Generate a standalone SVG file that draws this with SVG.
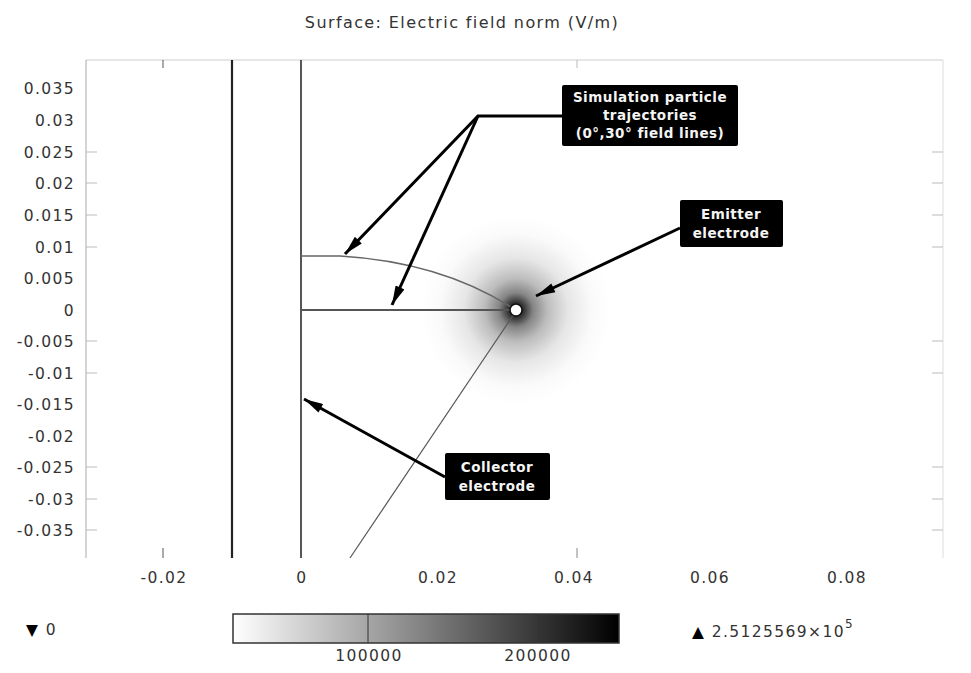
<svg xmlns="http://www.w3.org/2000/svg" width="971" height="673" viewBox="0 0 971 673">
<style>
.t{font-family:"DejaVu Sans",sans-serif;fill:#333}
.ax{font-size:15.5px;letter-spacing:1.4px}
.yl{text-anchor:end}
.xl{text-anchor:middle}
.bx{fill:#000}
.bt{font-family:"DejaVu Sans",sans-serif;font-weight:bold;font-size:13.5px;letter-spacing:0.5px;fill:#f4f4f4;text-anchor:middle}
.tk{stroke:#bbb;stroke-width:1}
.ld{stroke:#000;stroke-width:3;fill:none}
</style>
<defs>
<radialGradient id="glow" cx="516" cy="310" r="95" gradientUnits="userSpaceOnUse">
<stop offset="0" stop-color="#000"/>
<stop offset="0.08" stop-color="#333"/>
<stop offset="0.18" stop-color="#858585"/>
<stop offset="0.33" stop-color="#bcbcbc"/>
<stop offset="0.55" stop-color="#e6e6e6"/>
<stop offset="0.8" stop-color="#fafafa"/>
<stop offset="1" stop-color="#fff"/>
</radialGradient>
<linearGradient id="cb" x1="0" y1="0" x2="1" y2="0">
<stop offset="0" stop-color="#fff"/>
<stop offset="1" stop-color="#000"/>
</linearGradient>
<marker id="ah" viewBox="0 0 20 10" refX="20" refY="5" markerWidth="7" markerHeight="3.2" orient="auto" markerUnits="strokeWidth">
<path d="M0,0 L20,5 L0,10 Z" fill="#000"/>
</marker>
</defs>
<rect width="971" height="673" fill="#fff"/>
<text class="t" x="462" y="28" font-size="16" letter-spacing="1.4" text-anchor="middle">Surface: Electric field norm (V/m)</text>
<g id="plot">
<circle cx="516" cy="310" r="95" fill="url(#glow)"/>
<line x1="86" y1="60" x2="943" y2="60" stroke="#ccc"/>
<line x1="86" y1="60" x2="86" y2="558" stroke="#aaa"/>
<line x1="943" y1="60" x2="943" y2="558" stroke="#ddd"/>
<g class="tk">
<line x1="86" y1="152" x2="97" y2="152"/><line x1="86" y1="183" x2="97" y2="183"/>
<line x1="86" y1="215" x2="97" y2="215"/><line x1="86" y1="247" x2="97" y2="247"/>
<line x1="86" y1="341" x2="97" y2="341"/><line x1="86" y1="373" x2="97" y2="373"/>
<line x1="86" y1="467" x2="97" y2="467"/><line x1="86" y1="499" x2="97" y2="499"/>
<line x1="86" y1="530" x2="97" y2="530"/>
<line x1="932" y1="152" x2="943" y2="152"/><line x1="932" y1="183" x2="943" y2="183"/>
<line x1="932" y1="215" x2="943" y2="215"/><line x1="932" y1="247" x2="943" y2="247"/>
<line x1="932" y1="341" x2="943" y2="341"/><line x1="932" y1="373" x2="943" y2="373"/>
<line x1="932" y1="467" x2="943" y2="467"/><line x1="932" y1="499" x2="943" y2="499"/>
<line x1="932" y1="530" x2="943" y2="530"/>
<line x1="163" y1="60" x2="163" y2="68" stroke="#555"/><line x1="577" y1="60" x2="577" y2="68"/>
<line x1="163" y1="548" x2="163" y2="558" stroke="#555"/><line x1="577" y1="548" x2="577" y2="558" stroke="#888"/>
</g>
<g class="t ax">
<text class="yl" x="75" y="94">0.035</text>
<text class="yl" x="75" y="126">0.03</text>
<text class="yl" x="75" y="158">0.025</text>
<text class="yl" x="75" y="189">0.02</text>
<text class="yl" x="75" y="221">0.015</text>
<text class="yl" x="75" y="253">0.01</text>
<text class="yl" x="75" y="284">0.005</text>
<text class="yl" x="75" y="316">0</text>
<text class="yl" x="75" y="347">-0.005</text>
<text class="yl" x="75" y="379">-0.01</text>
<text class="yl" x="75" y="410">-0.015</text>
<text class="yl" x="75" y="442">-0.02</text>
<text class="yl" x="75" y="473">-0.025</text>
<text class="yl" x="75" y="505">-0.03</text>
<text class="yl" x="75" y="536">-0.035</text>
<text class="xl" x="164" y="583">-0.02</text>
<text class="xl" x="302" y="583">0</text>
<text class="xl" x="438" y="583">0.02</text>
<text class="xl" x="574" y="583">0.04</text>
<text class="xl" x="710" y="583">0.06</text>
<text class="xl" x="847" y="583">0.08</text>
</g>
<line x1="232" y1="60" x2="232" y2="558" stroke="#222" stroke-width="2.2"/>
<line x1="301" y1="60" x2="301" y2="558" stroke="#444" stroke-width="1.8"/>
<line x1="301" y1="310" x2="510" y2="310" stroke="#555" stroke-width="2"/>
<path d="M301,256 L340,256 Q440,262 511,307" fill="none" stroke="#666" stroke-width="1.3"/>
<line x1="514" y1="314" x2="350" y2="558" stroke="#555" stroke-width="1.2"/>
<circle cx="516" cy="310" r="6" fill="#fff" stroke="#111" stroke-width="1.5"/>
</g>
<g id="connectors">
<polyline class="ld" points="562,116 478,116 345,254" marker-end="url(#ah)"/>
<line class="ld" x1="478" y1="116" x2="392" y2="305" marker-end="url(#ah)"/>
<line class="ld" x1="680" y1="228" x2="536" y2="296" marker-end="url(#ah)"/>
<line class="ld" x1="445" y1="477" x2="304" y2="399" marker-end="url(#ah)"/>
</g>
<g id="label-trajectories">
<rect class="bx" x="562" y="85" width="176" height="61" rx="2"/>
<text class="bt" x="650" y="102">Simulation particle</text>
<text class="bt" x="650" y="120">trajectories</text>
<text class="bt" x="650" y="138">(0°,30° field lines)</text>
</g>
<g id="label-emitter">
<rect class="bx" x="680" y="200" width="103" height="47" rx="2"/>
<text class="bt" x="731" y="219">Emitter</text>
<text class="bt" x="731" y="238">electrode</text>
</g>
<g id="label-collector">
<rect class="bx" x="445" y="453" width="105" height="47" rx="2"/>
<text class="bt" x="497" y="472">Collector</text>
<text class="bt" x="497" y="491">electrode</text>
</g>
<g id="colorbar">
<rect x="233" y="614" width="386" height="29" fill="url(#cb)" stroke="#333" stroke-width="1.5"/>
<line x1="368" y1="614" x2="368" y2="643" stroke="#333"/>
<line x1="539" y1="614" x2="539" y2="643" stroke="#333"/>
<text class="t ax xl" x="369" y="661">100000</text>
<text class="t ax xl" x="538" y="661">200000</text>
<text class="t ax" x="26" y="635"><tspan fill="#000">▼</tspan> 0</text>
<text class="t ax" x="692" y="637"><tspan fill="#000">▲</tspan> 2.5125569×10<tspan dy="-9" font-size="12">5</tspan></text>
</g>
</svg>
